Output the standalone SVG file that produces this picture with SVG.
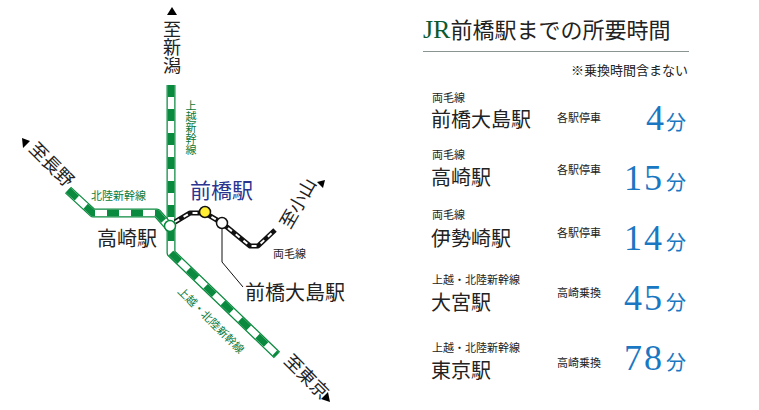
<svg xmlns="http://www.w3.org/2000/svg" width="759" height="410" viewBox="0 0 759 410">
<style>
.j{font-family:"Noto Sans CJK JP","Noto Sans",sans-serif;fill:#222}
.g{font-family:"Noto Sans CJK JP",sans-serif;fill:#0a7a3a;font-size:11px}
.v{writing-mode:vertical-rl;text-orientation:upright}
.sh{fill:none;stroke:#0a8a3e;stroke-width:9;stroke-linejoin:round}
.sw{fill:none;stroke:#fff;stroke-width:6.5;stroke-linejoin:round}
.sd{fill:none;stroke:#0a8a3e;stroke-width:6.5;stroke-dasharray:12 12;stroke-linejoin:round}
.rb{fill:none;stroke:#111;stroke-width:5;stroke-linejoin:round}
.rw{fill:none;stroke:#fff;stroke-width:2;stroke-dasharray:5 5;stroke-linejoin:round}
.t{font-family:"Liberation Serif",serif;fill:#1a78c2;font-size:36px}
.f{font-family:"Noto Sans CJK JP",sans-serif;fill:#1a78c2;font-size:20px}
.s{font-size:11px}
.m{font-size:20px}
</style>
<g id="connectors">
<path id="joetsu" class="sh" d="M171,85 V253 L277,355"/>
<path class="sw" d="M171,85 V253 L277,355"/>
<path class="sd" d="M171,85 V253 L277,355"/>
<path id="hokuriku" class="sh" d="M68,190 L93,213 H157 L171,229"/>
<path class="sw" d="M68,190 L93,213 H157 L171,229"/>
<path class="sd" d="M68,190 L93,213 H157 L171,229"/>
<path id="ryomo" class="rb" d="M175,222 L190,213 H205 L222,223 L250,246 H258 L275,230"/>
<path class="rw" d="M175,222 L190,213 H205 L222,223 L250,246 H258 L275,230"/>
<path d="M222,229 V262 L243,287" fill="none" stroke="#111" stroke-width="1"/>
<path d="M172,7 l-5,8 h10z M22,138 l1,10 l7,-7z M325,180 l-8,2 l6,6z M330,402 l-2,-10 l-7,7z"/>
</g>
<g id="takasaki"><circle cx="170" cy="226" r="5.5" fill="#fff" stroke="#0a8a3e" stroke-width="1.5"/>
<text class="j" x="97" y="246" font-size="20">高崎駅</text></g>
<g id="maebashi"><circle cx="205" cy="212" r="5.5" fill="#ffee33" stroke="#111" stroke-width="1.5"/>
<text x="190" y="198" font-size="21" fill="#2a3590" font-family="Noto Sans CJK JP,sans-serif">前橋駅</text></g>
<g id="oshima"><circle cx="222" cy="223" r="5.5" fill="#fff" stroke="#111" stroke-width="1.5"/>
<text class="j" x="245" y="300" font-size="20">前橋大島駅</text></g>
<g id="labels">
<text class="j v" font-size="18" x="172" y="20">至新潟</text>
<text class="g v" x="191" y="100" font-size="12">上越新幹線</text>
<text class="g" x="91" y="200">北陸新幹線</text>
<text class="j" font-size="18" transform="translate(28,150) rotate(45)">至長野</text>
<text class="j" font-size="18" transform="translate(290,230) rotate(-60)">至小山</text>
<text class="j" font-size="11" x="273" y="258">両毛線</text>
<text class="g" transform="translate(177,292) rotate(45)">上越・北陸新幹線</text>
<text class="j" font-size="18" transform="translate(283,362) rotate(45)">至東京</text>
</g>
<g id="table">
<text x="423" y="38" font-size="22" class="j"><tspan font-family="Liberation Serif,serif" fill="#0a5a30" font-size="26">JR</tspan>前橋駅までの所要時間</text>
<line x1="423" y1="51.5" x2="689" y2="51.5" stroke="#8a9590" stroke-width="1"/>
<text class="j" x="688" y="75" font-size="13" text-anchor="end">※乗換時間含まない</text>
<g id="r1"><text class="j s" x="432" y="102">両毛線</text><text class="j m" x="431" y="127">前橋大島駅</text><text class="j s" x="557" y="122">各駅停車</text><text class="t" x="664" y="130" text-anchor="end">4</text><text class="f" x="666" y="130">分</text></g>
<g id="r2"><text class="j s" x="432" y="159">両毛線</text><text class="j m" x="431" y="185">高崎駅</text><text class="j s" x="557" y="174">各駅停車</text><text class="t" x="664" y="190" text-anchor="end" letter-spacing="2">15</text><text class="f" x="666" y="190">分</text></g>
<g id="r3"><text class="j s" x="432" y="219">両毛線</text><text class="j m" x="431" y="246">伊勢崎駅</text><text class="j s" x="557" y="237">各駅停車</text><text class="t" x="664" y="250" text-anchor="end" letter-spacing="2">14</text><text class="f" x="666" y="250">分</text></g>
<g id="r4"><text class="j s" x="432" y="284">上越・北陸新幹線</text><text class="j m" x="431" y="310">大宮駅</text><text class="j s" x="557" y="297">高崎乗換</text><text class="t" x="664" y="310" text-anchor="end" letter-spacing="2">45</text><text class="f" x="666" y="310">分</text></g>
<g id="r5"><text class="j s" x="432" y="352">上越・北陸新幹線</text><text class="j m" x="431" y="378">東京駅</text><text class="j s" x="557" y="367">高崎乗換</text><text class="t" x="664" y="370" text-anchor="end" letter-spacing="2">78</text><text class="f" x="666" y="370">分</text></g>
</g>
</svg>
